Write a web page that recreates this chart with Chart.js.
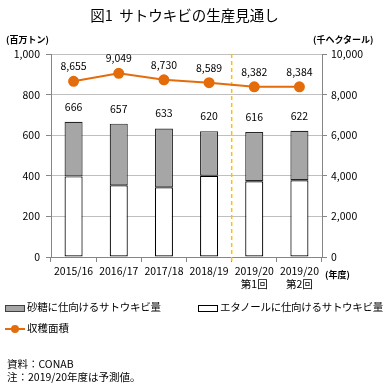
<!DOCTYPE html>
<html>
<head>
<meta charset="utf-8">
<script src="https://cdn.jsdelivr.net/npm/chart.js@4"></script>
<style>
  body { margin:0; background:#fff; font-family:"Noto Sans CJK JP", sans-serif; }
  #wrap { position:relative; width:389px; height:391px; overflow:hidden; }
  #c { position:absolute; left:0; top:0; }
  .t { position:absolute; white-space:nowrap; color:#000; line-height:1; }
  .sw { position:absolute; box-sizing:border-box; }
</style>
</head>
<body>
<div id="wrap">
  <canvas id="c" width="389" height="391"></canvas>
  <div class="t" style="left:0;width:369px;text-align:center;top:8px;font-size:14.5px;">図1&nbsp;&nbsp;サトウキビの生産見通し</div>
  <div class="t" style="left:6px;top:35px;font-size:9px;font-weight:bold;">(百万トン)</div>
  <div class="t" style="left:313px;top:35px;font-size:9px;font-weight:bold;">(千ヘクタール)</div>
  <div class="t" style="left:325px;top:270px;font-size:9px;font-weight:bold;">(年度)</div>

  <div class="sw" style="left:5px;top:305px;width:20px;height:7px;background:#A6A6A6;border:1px solid #404040;"></div>
  <div class="t" style="left:27px;top:302px;font-size:10.5px;letter-spacing:-0.2px;">砂糖に仕向けるサトウキビ量</div>
  <div class="sw" style="left:198px;top:305px;width:20px;height:7px;background:#fff;border:1px solid #000;"></div>
  <div class="t" style="left:220px;top:302px;font-size:10.5px;letter-spacing:-0.3px;">エタノールに仕向けるサトウキビ量</div>
  <div class="sw" style="left:5px;top:328px;width:20px;height:2px;background:#E46C0A;"></div>
  <div class="sw" style="left:11px;top:325px;width:8px;height:8px;border-radius:50%;background:#E46C0A;"></div>
  <div class="t" style="left:27px;top:323px;font-size:10.5px;">収穫面積</div>

  <div class="t" style="left:7px;top:359px;font-size:10.5px;">資料：CONAB</div>
  <div class="t" style="left:7px;top:372px;font-size:10.5px;">注：2019/20年度は予測値。</div>
</div>
<script>
// ---------------- DATA ----------------
const categories = [["2015/16"], ["2016/17"], ["2017/18"], ["2018/19"], ["2019/20", "第1回"], ["2019/20", "第2回"]];
const sugarCane = [269, 304, 290, 220, 243, 244];
const ethanolCane = [397, 353, 343, 400, 373, 378];
const totalCane = [666, 657, 633, 620, 616, 622];
const harvestArea = [8655, 9049, 8730, 8589, 8382, 8384];
const leftTicks = [0, 200, 400, 600, 800, 1000];
const rightTicks = [0, 2000, 4000, 6000, 8000, 10000];

const fmt = v => Number(v).toLocaleString("en-US");
const numFont = { family: "Noto Sans CJK JP", size: 10.5 };

// ---------------- PLUGINS ----------------
const forecastLine = {
    id: "forecastLine",
    beforeDatasetsDraw(chart){
        const x = chart.scales.x;
        const a = chart.chartArea;
        const px = (x.getPixelForValue(3) + x.getPixelForValue(4)) / 2;
        const ctx = chart.ctx;
        ctx.save();
        ctx.strokeStyle = "#FFC000";
        ctx.lineWidth = 1.5;
        ctx.setLineDash([4, 3]);
        ctx.beginPath();
        ctx.moveTo(px, a.top);
        ctx.lineTo(px, a.bottom + 4);
        ctx.stroke();
        ctx.restore();
    }
};

const valueLabels = {
    id: "valueLabels",
    afterDatasetsDraw(chart){
        const ctx = chart.ctx;
        ctx.save();
        ctx.fillStyle = "#000";
        ctx.font = "10.5px 'Noto Sans CJK JP'";
        ctx.textAlign = "center";
        ctx.textBaseline = "middle";
        chart.getDatasetMeta(1).data.forEach((bar, i) => {
            ctx.fillText(fmt(totalCane[i]), bar.x, bar.y - 15);
        });
        chart.getDatasetMeta(2).data.forEach((pt, i) => {
            ctx.fillText(fmt(harvestArea[i]), pt.x, pt.y - 15);
        });
        ctx.restore();
    }
};

// ---------------- CHART ----------------
new Chart(document.getElementById("c"), {
    type: "bar",
    data: {
        labels: categories,
        datasets: [
            {
                label: "エタノールに仕向けるサトウキビ量",
                data: ethanolCane,
                backgroundColor: "#FFFFFF",
                borderColor: "#000000",
                borderWidth: 1.2,
                borderSkipped: false,
                yAxisID: "y",
                order: 1,
                barPercentage: 0.4,
                categoryPercentage: 1
            },
            {
                label: "砂糖に仕向けるサトウキビ量",
                data: sugarCane,
                backgroundColor: "#A6A6A6",
                borderColor: "#262626",
                borderWidth: 1.2,
                borderSkipped: false,
                yAxisID: "y",
                order: 2,
                barPercentage: 0.4,
                categoryPercentage: 1
            },
            {
                type: "line",
                label: "収穫面積",
                data: harvestArea,
                borderColor: "#E46C0A",
                backgroundColor: "#E46C0A",
                borderWidth: 2,
                pointRadius: 4.5,
                yAxisID: "y2",
                order: 0
            }
        ]
    },
    options: {
        responsive: false,
        animation: false,
        layout: { padding: { top: 54, bottom: 100, left: 0, right: 0 } },
        plugins: { legend: { display: false }, tooltip: { enabled: false } },
        scales: {
            x: {
                stacked: true,
                grid: { offset: true, drawOnChartArea: false, tickLength: 5, color: "#868686" },
                border: { color: "#868686" },
                ticks: { font: numFont, color: "#000", padding: 3, maxRotation: 0, autoSkip: false },
                afterFit(s){ s.height = 34; }
            },
            y: {
                stacked: true,
                min: 0, max: 1000,
                afterBuildTicks(s){ s.ticks = leftTicks.map(v => ({ value: v })); },
                ticks: { font: numFont, color: "#000", padding: 6, callback: v => fmt(v) },
                grid: { color: "#BFBFBF", tickColor: "#868686", tickLength: 5 },
                border: { color: "#868686" },
                afterFit(s){ s.width = 51; }
            },
            y2: {
                position: "right",
                min: 0, max: 10000,
                afterBuildTicks(s){ s.ticks = rightTicks.map(v => ({ value: v })); },
                ticks: { font: numFont, color: "#000", padding: 4, callback: v => fmt(v) },
                grid: { drawOnChartArea: false, tickColor: "#868686", tickLength: 5 },
                border: { color: "#868686" },
                afterFit(s){ s.width = 67; }
            }
        }
    },
    plugins: [forecastLine, valueLabels]
});
</script>
</body>
</html>
